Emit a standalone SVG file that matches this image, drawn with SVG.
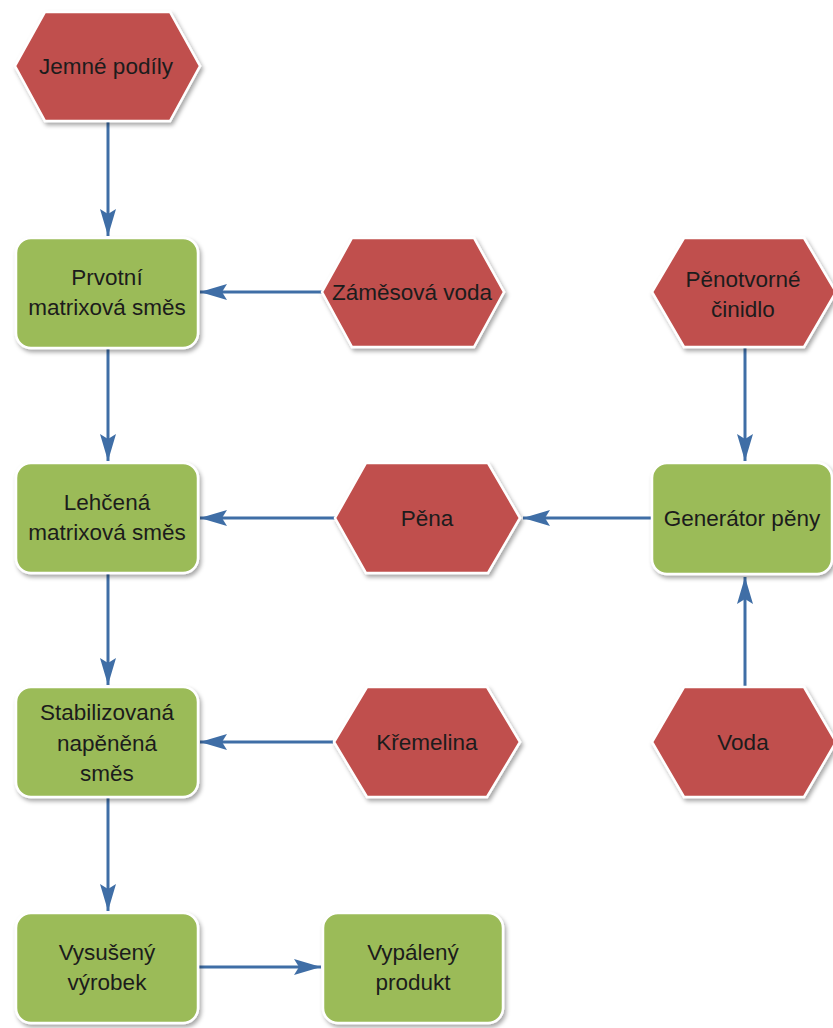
<svg xmlns="http://www.w3.org/2000/svg" width="833" height="1028" viewBox="0 0 833 1028">
<style>
.box{fill:#9bbb59;stroke:#ffffff;stroke-width:2.5;filter:url(#sh)}
.hex{fill:#c0504d;stroke:#ffffff;stroke-width:2.5;filter:url(#sh)}
text{font-family:"Liberation Sans",Arial,sans-serif;font-size:22.5px;fill:#1c1c1c;text-anchor:middle}
.con{stroke:#3f6ea6;stroke-width:3;fill:none;marker-end:url(#ah)}
</style>
<defs>
<filter id="sh" x="-10%" y="-10%" width="125%" height="130%">
<feDropShadow dx="2" dy="3" stdDeviation="2.2" flood-color="#000" flood-opacity="0.35"/>
</filter>
<marker id="ah" viewBox="0 0 27 16" refX="27" refY="8" markerWidth="27" markerHeight="16" markerUnits="userSpaceOnUse" orient="auto">
<path d="M0,0 L27,8 L0,16 L5,8 Z" fill="#3f6ea6"/>
</marker>
</defs>
<rect width="833" height="1028" fill="#ffffff"/>
<g id="connectors">
<line class="con" x1="108" y1="122" x2="108" y2="236"/>
<line class="con" x1="108" y1="349" x2="108" y2="461"/>
<line class="con" x1="108" y1="574" x2="108" y2="685"/>
<line class="con" x1="108" y1="798" x2="108" y2="911"/>
<line class="con" x1="322" y1="292" x2="200" y2="292"/>
<line class="con" x1="335" y1="518" x2="200" y2="518"/>
<line class="con" x1="651" y1="518" x2="523" y2="518"/>
<line class="con" x1="333" y1="742" x2="200" y2="742"/>
<line class="con" x1="745" y1="348" x2="745" y2="461"/>
<line class="con" x1="745" y1="686" x2="745" y2="577"/>
<line class="con" x1="198" y1="967" x2="321" y2="967"/>
</g>
<g id="jemne-podily">
<polygon class="hex" points="15,66 45,12 170,12 200,66 170,121 45,121"/>
<text x="106" y="74">Jemné podíly</text>
</g>
<g id="prvotni">
<rect class="box" x="16" y="238" width="182" height="110" rx="15"/>
<text x="107" y="285">Prvotní</text>
<text x="107" y="315">matrixová směs</text>
</g>
<g id="zamesova-voda">
<polygon class="hex" points="322,292 352,238 474,238 504,292 474,347 352,347"/>
<text x="412" y="300">Záměsová voda</text>
</g>
<g id="penotvorne">
<polygon class="hex" points="652,292 684,238 804,238 836,292 804,347 684,347"/>
<text x="743" y="287">Pěnotvorné</text>
<text x="743" y="317">činidlo</text>
</g>
<g id="lehcena">
<rect class="box" x="16" y="463" width="182" height="110" rx="15"/>
<text x="107" y="510">Lehčená</text>
<text x="107" y="540">matrixová směs</text>
</g>
<g id="pena">
<polygon class="hex" points="335,518 366,463 488,463 520,518 488,573 366,573"/>
<text x="427" y="526">Pěna</text>
</g>
<g id="generator">
<rect class="box" x="652" y="463" width="180" height="111" rx="15"/>
<text x="742" y="526">Generátor pěny</text>
</g>
<g id="stabilizovana">
<rect class="box" x="16" y="687" width="182" height="110" rx="15"/>
<text x="107" y="720">Stabilizovaná</text>
<text x="107" y="751">napěněná</text>
<text x="107" y="781">směs</text>
</g>
<g id="kremelina">
<polygon class="hex" points="334,742 367,687 487,687 520,742 487,797 367,797"/>
<text x="427" y="750">Křemelina</text>
</g>
<g id="voda">
<polygon class="hex" points="652,742 684,687 804,687 836,742 804,797 684,797"/>
<text x="743" y="750">Voda</text>
</g>
<g id="vysuseny">
<rect class="box" x="16" y="913" width="182" height="110" rx="15"/>
<text x="107" y="960">Vysušený</text>
<text x="107" y="990">výrobek</text>
</g>
<g id="vypaleny">
<rect class="box" x="323" y="913" width="180" height="110" rx="15"/>
<text x="413" y="960">Vypálený</text>
<text x="413" y="990">produkt</text>
</g>
</svg>
